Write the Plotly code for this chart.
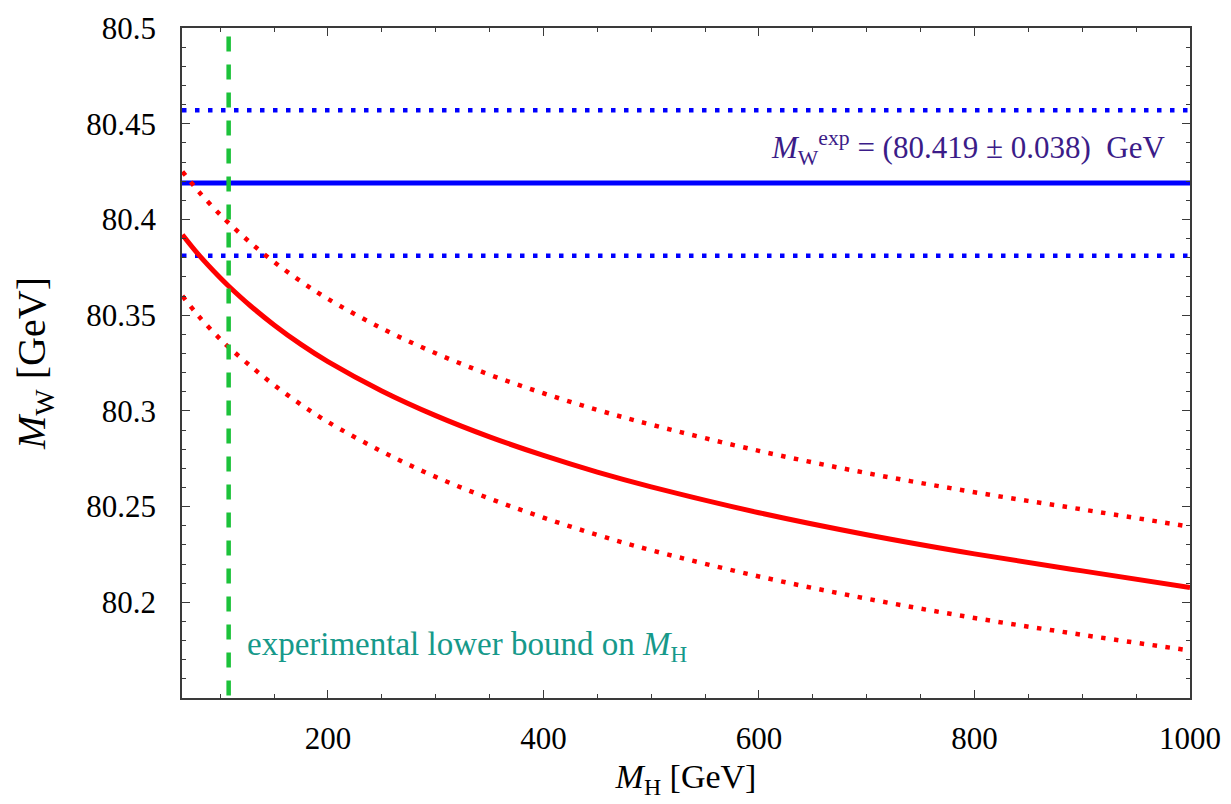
import plotly.graph_objects as go

# ---- data ----
mh = [65, 80, 100, 108, 128, 150, 175, 200, 250, 300, 350, 400, 450, 500,
      600, 700, 800, 900, 1000]
mw_central = [80.392, 80.3816, 80.3695, 80.3651, 80.3549, 80.3449, 80.3347,
              80.3257, 80.3104, 80.2975, 80.2864, 80.2767, 80.2680, 80.2603,
              80.2468, 80.2353, 80.2253, 80.2164, 80.2077]
mw_upper = [80.425, 80.4146, 80.4025, 80.3981, 80.3879, 80.3778, 80.3676,
            80.3585, 80.3431, 80.3301, 80.3189, 80.3092, 80.3005, 80.2928,
            80.2791, 80.2675, 80.2575, 80.2485, 80.2395]
mw_lower = [80.360, 80.3495, 80.3375, 80.3332, 80.3235, 80.3135, 80.3033,
            80.2942, 80.2788, 80.2655, 80.2542, 80.2442, 80.2352, 80.2272,
            80.2135, 80.2019, 80.1918, 80.1830, 80.1748]

mw_exp = 80.419
mw_exp_err = 0.038
mh_lower_bound = 107.9

x_range = [64.6, 1000]
y_range = [80.15, 80.5]
x_tickvals = [200, 400, 600, 800, 1000]
x_ticktext = ["200", "400", "600", "800", "1000"]
y_tickvals = [80.2, 80.25, 80.3, 80.35, 80.4, 80.45, 80.5]
y_ticktext = ["80.2", "80.25", "80.3", "80.35", "80.4", "80.45", "80.5"]

FONT = "Liberation Serif"
RED = "#ff0000"
BLUE = "#0000ff"
GREEN = "#1cc23a"
FRAME = "#3a3a3a"
PURPLE = "#3b1c88"
NB = "\u00a0"

fig = go.Figure()

# experimental band (horizontal lines)
fig.add_trace(go.Scatter(x=x_range, y=[mw_exp + mw_exp_err] * 2, mode="lines",
                         line=dict(color=BLUE, width=4.5, dash="4.5px,8.5px"),
                         hoverinfo="skip", showlegend=False))
fig.add_trace(go.Scatter(x=x_range, y=[mw_exp - mw_exp_err] * 2, mode="lines",
                         line=dict(color=BLUE, width=4.5, dash="4.5px,8.5px"),
                         hoverinfo="skip", showlegend=False))
fig.add_trace(go.Scatter(x=x_range, y=[mw_exp] * 2, mode="lines",
                         line=dict(color=BLUE, width=5),
                         hoverinfo="skip", showlegend=False))

# theory prediction
fig.add_trace(go.Scatter(x=mh, y=mw_upper, mode="lines",
                         line=dict(color=RED, width=4.5, dash="4.5px,8.5px", shape="spline"),
                         showlegend=False))
fig.add_trace(go.Scatter(x=mh, y=mw_lower, mode="lines",
                         line=dict(color=RED, width=4.5, dash="4.5px,8.5px", shape="spline"),
                         showlegend=False))
fig.add_trace(go.Scatter(x=mh, y=mw_central, mode="lines",
                         line=dict(color=RED, width=5, shape="spline"),
                         showlegend=False))

# experimental lower bound on MH
fig.add_trace(go.Scatter(x=[mh_lower_bound] * 2, y=[80.4955, y_range[0]], mode="lines",
                         line=dict(color=GREEN, width=4.5, dash="15px,13px"),
                         hoverinfo="skip", showlegend=False))

fig.add_annotation(x=978.4, y=80.4375, xref="x", yref="y", xanchor="right",
                   yanchor="middle", showarrow=False,
                   text=f"<i>M</i><sub>W</sub><sup>exp</sup> = (80.419 ± 0.038){NB}{NB}GeV",
                   font=dict(family=FONT, size=31, color=PURPLE))
fig.add_annotation(x=122.9, y=80.177, xref="x", yref="y", xanchor="left",
                   yanchor="middle", showarrow=False,
                   text="experimental lower bound on <i>M</i><sub>H</sub>",
                   font=dict(family=FONT, size=33, color="#16998a"))

tick_font = dict(family=FONT, size=31, color="black")

fig.update_xaxes(range=x_range, tickmode="array", tickvals=x_tickvals,
                 ticktext=x_ticktext, tickfont=tick_font, ticklabelstandoff=12,
                 showgrid=False, zeroline=False, showline=True, linecolor=FRAME,
                 linewidth=1.5, mirror="ticks", ticks="inside", ticklen=8,
                 tickwidth=1.3, tickcolor=FRAME,
                 minor=dict(ticks="inside", dtick=50, tick0=0, ticklen=4,
                            tickwidth=1.2, tickcolor=FRAME),
                 title=dict(text="<i>M</i><sub>H</sub> [GeV]",
                            font=dict(family=FONT, size=34, color="black"),
                            standoff=9))
fig.update_yaxes(range=y_range, tickmode="array", tickvals=y_tickvals,
                 ticktext=y_ticktext, tickfont=tick_font, ticklabelstandoff=18,
                 showgrid=False, zeroline=False, showline=True, linecolor=FRAME,
                 linewidth=1.5, mirror="ticks", ticks="inside", ticklen=8,
                 tickwidth=1.3, tickcolor=FRAME,
                 minor=dict(ticks="inside", dtick=0.01, tick0=80.0, ticklen=4,
                            tickwidth=1.2, tickcolor=FRAME),
                 title=dict(text="<i>M</i><sub>W</sub> [GeV]",
                            font=dict(family=FONT, size=40, color="black"),
                            standoff=28))

fig.update_layout(width=1231, height=804,
                  font=dict(family=FONT, size=20, color="black"),
                  margin=dict(l=182, r=41, t=28, b=106, autoexpand=False),
                  plot_bgcolor="white", paper_bgcolor="white",
                  showlegend=False)

fig.write_html("out.html")
